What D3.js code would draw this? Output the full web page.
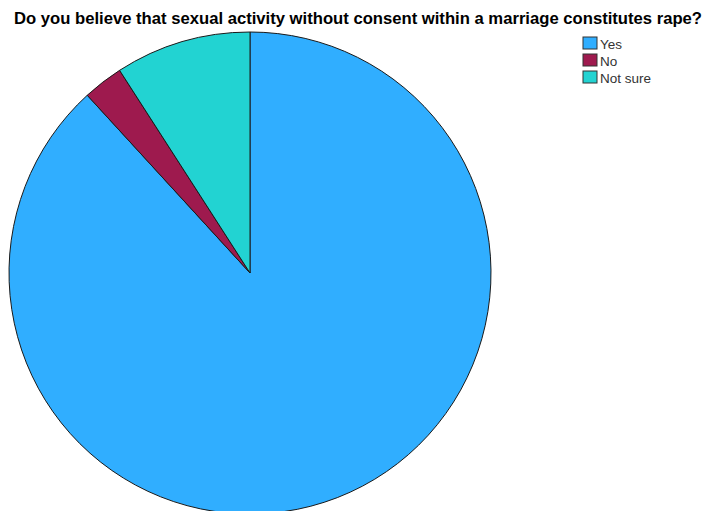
<!DOCTYPE html>
<html>
<head>
<meta charset="utf-8">
<script src="https://cdn.jsdelivr.net/npm/d3@7"></script>
<style>
  html, body { margin: 0; padding: 0; background: #fff; }
  svg { display: block; }
</style>
</head>
<body>
<svg id="chart" width="705" height="511"></svg>
<script>
// Survey answers (percent of respondents)
const categories = ["Yes", "No", "Not sure"];
const values = [88.2, 2.7, 9.1];
const colors = ["#30aeff", "#9e1a4e", "#22d3d2"];
const title = "Do you believe that sexual activity without consent within a marriage constitutes rape?";

const svg = d3.select("#chart");
const cx = 250, cy = 273, radius = 241;

// Title
svg.append("text")
  .attr("x", 358)
  .attr("y", 24)
  .attr("text-anchor", "middle")
  .attr("font-family", "Liberation Sans, Arial, sans-serif")
  .attr("font-weight", "bold")
  .attr("font-size", 16.5)
  .attr("fill", "#000")
  .attr("textLength", 688)
  .attr("lengthAdjust", "spacingAndGlyphs")
  .text(title);

// Pie: first slice starts at 12 o'clock and runs clockwise
const pie = d3.pie().sort(null).value(d => d.value);
const arc = d3.arc().innerRadius(0).outerRadius(radius);
const color = d3.scaleOrdinal().domain(categories).range(colors);

const data = categories.map((c, i) => ({ category: c, value: values[i] }));

svg.append("g")
  .attr("transform", `translate(${cx},${cy})`)
  .selectAll("path")
  .data(pie(data))
  .join("path")
  .attr("d", arc)
  .attr("fill", d => color(d.data.category))
  .attr("stroke", "#1a1a1a")
  .attr("stroke-width", 1)
  .attr("stroke-linejoin", "round");

// Legend
const legend = svg.append("g").attr("transform", "translate(583,37)");
const rows = legend.selectAll("g")
  .data(categories)
  .join("g")
  .attr("transform", (d, i) => `translate(0,${i * 17})`);

rows.append("rect")
  .attr("width", 14)
  .attr("height", 12)
  .attr("fill", d => color(d))
  .attr("stroke", "#333")
  .attr("stroke-width", 1);

rows.append("text")
  .attr("x", 17)
  .attr("y", 11.5)
  .attr("font-family", "Liberation Sans, Arial, sans-serif")
  .attr("font-size", 13.5)
  .attr("fill", "#333")
  .text(d => d);
</script>
</body>
</html>
